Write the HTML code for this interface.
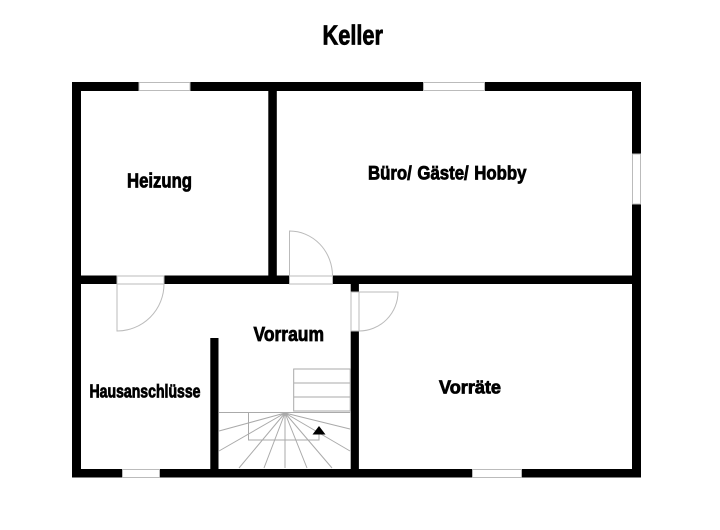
<!DOCTYPE html>
<html><head><meta charset="utf-8"><style>
html,body{margin:0;padding:0;background:#fff}
svg{display:block}
text{font-family:"Liberation Sans",sans-serif;font-weight:bold;fill:#000;stroke:#000;stroke-width:.8;word-spacing:1px}
</style></head><body>
<svg width="720" height="530" viewBox="0 0 720 530" xmlns="http://www.w3.org/2000/svg">
<rect width="720" height="530" fill="#fff"/>
<g fill="#000">
<rect x="72" y="82" width="569" height="9"/>
<rect x="72" y="469" width="569" height="8.5"/>
<rect x="72" y="82" width="9" height="395.5"/>
<rect x="632" y="82" width="9" height="395.5"/>
<rect x="72" y="275.5" width="569" height="8.5"/>
<rect x="268.3" y="82" width="8.5" height="200"/>
<rect x="350.7" y="276" width="8.2" height="16"/>
<rect x="350.7" y="331" width="8.2" height="140"/>
<rect x="210.3" y="338" width="8.2" height="135"/>
</g>
<g fill="#fff" stroke="#bbb" stroke-width="1">
<rect x="139" y="82.5" width="51" height="8"/>
<rect x="423.5" y="82.5" width="61" height="8"/>
<rect x="632.5" y="154" width="8" height="50"/>
<rect x="122.5" y="469.5" width="37" height="8"/>
<rect x="472.5" y="469.5" width="49" height="8"/>
<rect x="117" y="276" width="47" height="8"/>
<rect x="289.5" y="276" width="43" height="8"/>
<rect x="351" y="292" width="8" height="39"/>
</g>
<g fill="none" stroke="#bbb" stroke-width="1">
<path d="M117 284V331A47 47 0 0 0 164 284"/>
<path d="M289.5 276V231A43 45 0 0 1 332.5 276"/>
<path d="M359 292H398A39 39 0 0 1 359 331"/>
</g>
<g fill="none" stroke="#aaa" stroke-width="1">
<rect x="293.7" y="369" width="56.5" height="42"/>
<path d="M293.7 383H350M293.7 397H350"/>
<path d="M219 412.500H351"/>
<path d="M248.500 413V440H319V432"/>
<path d="M285 413L219 431M285 413L219 451M285 413L239 468M285 413L264 468M285 413V468M285 413L307 468M285 413L332 468M285 413L350 451M285 413L350 429"/>
</g>
<path d="M319 426L325.500 434.500H312.500Z" fill="#000"/>
<text x="322.500" y="44.300" font-size="28" textLength="60.500" lengthAdjust="spacingAndGlyphs">Keller</text>
<text x="127" y="187.500" font-size="20.500" textLength="65" lengthAdjust="spacingAndGlyphs">Heizung</text>
<text x="368" y="179.500" font-size="19.500" textLength="158.500" lengthAdjust="spacingAndGlyphs">Büro/ Gäste/ Hobby</text>
<text x="253.500" y="341" font-size="20.500" textLength="70.500" lengthAdjust="spacingAndGlyphs">Vorraum</text>
<text x="89.500" y="397.300" font-size="18" textLength="111" lengthAdjust="spacingAndGlyphs">Hausanschlüsse</text>
<text x="439" y="393.300" font-size="18.500" textLength="62" lengthAdjust="spacingAndGlyphs">Vorräte</text>
</svg>
</body></html>
